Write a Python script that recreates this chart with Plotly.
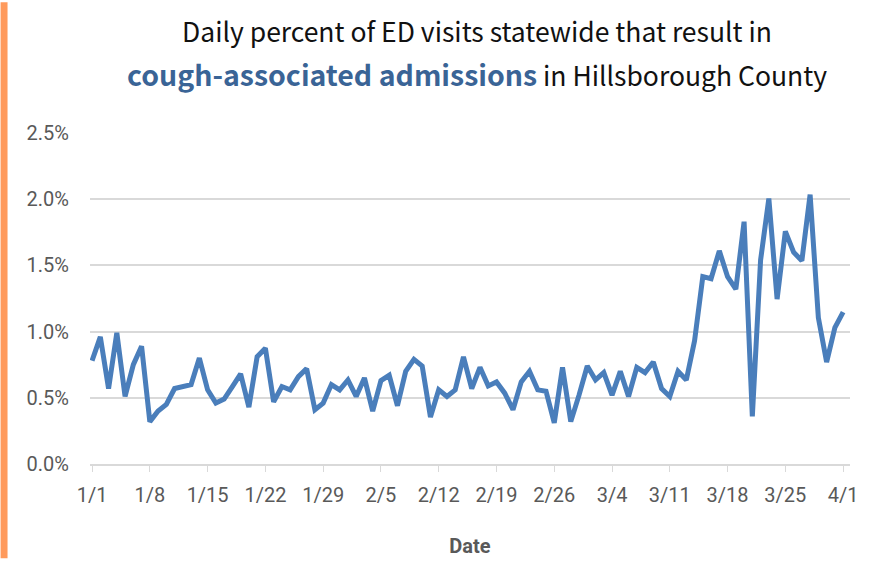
import plotly.graph_objects as go
import pandas as pd

start_date = "2020-01-01"
n_days = 92
dates = pd.date_range(start_date, periods=n_days, freq="D")

pct_values = [
    0.78, 0.96, 0.57, 0.99, 0.51, 0.75, 0.89, 0.32, 0.40, 0.45,
    0.57, 0.585, 0.60, 0.80, 0.56, 0.46, 0.49, 0.585, 0.68, 0.43,
    0.81, 0.875, 0.47, 0.585, 0.56, 0.66, 0.72, 0.41, 0.46, 0.60,
    0.56, 0.635, 0.51, 0.65, 0.40, 0.63, 0.67, 0.44, 0.70, 0.79,
    0.74, 0.355, 0.56, 0.51, 0.56, 0.81, 0.57, 0.73, 0.59, 0.62,
    0.535, 0.41, 0.62, 0.70, 0.56, 0.55, 0.31, 0.73, 0.32, 0.52,
    0.74, 0.635, 0.69, 0.52, 0.70, 0.51, 0.73, 0.69, 0.77, 0.57,
    0.51, 0.70, 0.635, 0.93, 1.415, 1.40, 1.61, 1.415, 1.32, 1.83,
    0.36, 1.54, 2.005, 1.245, 1.757, 1.60, 1.535, 2.035, 1.105, 0.77,
    1.03, 1.147,
]

title_line1 = "Daily percent of ED visits statewide that result in"
title_bold = "cough-associated admissions"
title_rest = " in Hillsborough County"
x_title = "Date"

LINE = "#4A7EBB"
GRID = "#D9D9D9"
TXT = "#595959"
TICKFONT = "Roboto, Arial, sans-serif"
TITLEFONT = "Noto Sans CJK SC, Source Sans Pro, sans-serif"

fig = go.Figure()
fig.add_trace(go.Scatter(
    x=dates, y=pct_values, mode="lines",
    line=dict(color=LINE, width=5),
    hoverinfo="x+y", showlegend=False,
))

W, H = 870, 566
L, R, T, B = 90, 15, 133, 96

fig.update_layout(
    width=W, height=H,
    margin=dict(l=L, r=R, t=T, b=B),
    paper_bgcolor="white", plot_bgcolor="white",
    font=dict(family=TICKFONT, color=TXT, size=20),
    xaxis=dict(
        type="date",
        range=["2019-12-31 18:00", "2020-04-01 20:00"],
        tick0="2020-01-01", dtick=7 * 86400000,
        tickformat="%-m/%-d",
        showgrid=False, zeroline=False,
        showline=True, linecolor=GRID, linewidth=1.5,
        ticks="outside", ticklen=6, tickcolor=GRID, tickwidth=1.2,
        tickfont=dict(size=20, color=TXT, family=TICKFONT),
        ticklabelstandoff=6,
        title=dict(text=f"<b>{x_title}</b>", font=dict(size=20, color=TXT, family=TICKFONT), standoff=33),
    ),
    yaxis=dict(
        range=[0, 2.5], dtick=0.5, tickformat=".1f", ticksuffix="%",
        showgrid=True, gridcolor=GRID, gridwidth=1.5,
        zeroline=False, showline=False, ticks="",
        tickfont=dict(size=20, color=TXT, family=TICKFONT),
        ticklabelstandoff=20,
    ),
    shapes=[dict(
        type="rect", xref="paper", yref="paper",
        x0=-L / (W - L - R), x1=(7 - L) / (W - L - R),
        y0=-B / (H - T - B), y1=1 + T / (H - T - B),
        fillcolor="#FF9A5C", line=dict(width=0), layer="above",
    )],
    annotations=[
        dict(text=title_line1, xref="paper", yref="paper",
             x=(480 - L) / (W - L - R), y=1 + (T - 29) / (H - T - B),
             xanchor="center", yanchor="middle", showarrow=False,
             font=dict(family=TITLEFONT, size=26.5, color="#111111")),
        dict(text=f"<b><span style='color:#3A6496;font-size:28.5px'>{title_bold}</span></b>{title_rest}",
             xref="paper", yref="paper",
             x=(480 - L) / (W - L - R), y=1 + (T - 72) / (H - T - B),
             xanchor="center", yanchor="middle", showarrow=False,
             font=dict(family=TITLEFONT, size=26.5, color="#111111")),
    ],
)

fig.write_html("out.html", post_script="document.body.style.margin='0';",
               config={"displayModeBar": False})
